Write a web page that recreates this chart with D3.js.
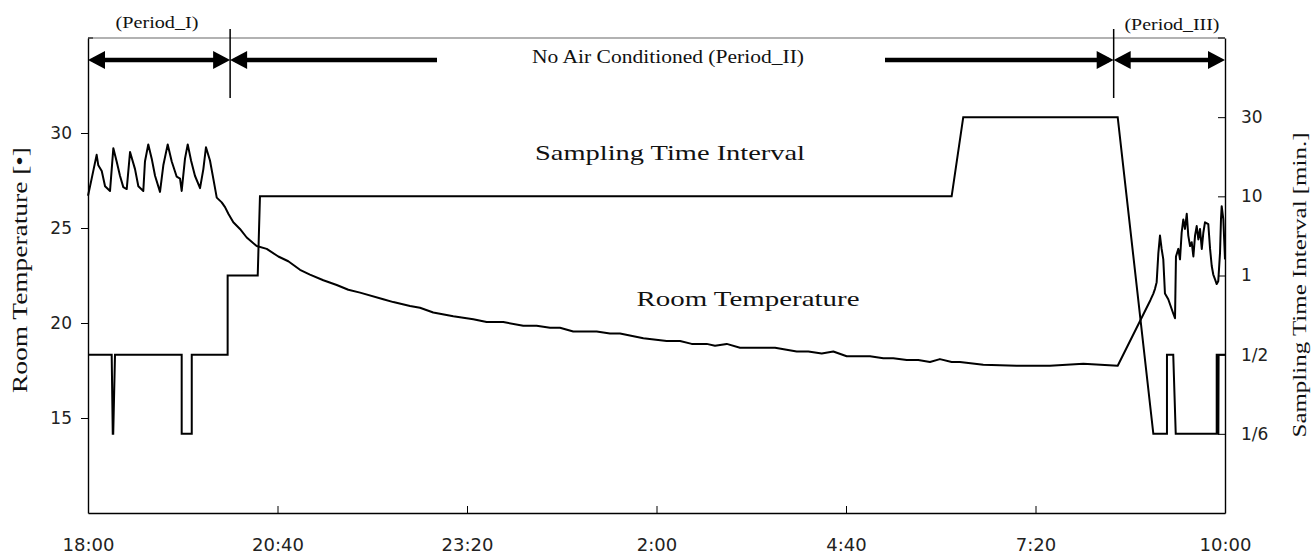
<!DOCTYPE html>
<html>
<head>
<meta charset="utf-8">
<script src="https://cdn.jsdelivr.net/npm/d3@7"></script>
<style>
  body { margin: 0; background: #fff; }
  svg { display: block; }
  .tick text { font-family: "DejaVu Sans", sans-serif; fill: #222; }
</style>
</head>
<body>
<svg width="1311" height="555"></svg>
<script>
// minutes since 18:00
const tempTime = [0, 3.1, 7.3, 8.7, 11.6, 14.4, 18.6, 21.4, 24.2, 27.0, 29.8, 32.7, 35.5, 39.7, 42.5, 46.7,
  48.1, 50.9, 53.8, 56.6, 60.8, 63.6, 67.3, 70.7, 74.9, 77.7, 79.1, 81.9, 84.2, 87.0, 90.3, 94.6, 97.4, 99.6,
  103.0, 105.8, 108.7, 112.9, 115.7, 118.5, 122.7, 128.3, 134.0, 142.4, 150.9, 160.7, 169.1, 179.0, 187.4,
  198.7, 210.0, 219.8, 229.7, 249.3, 257.8, 271.9, 280.3, 291.5, 308.4, 325.3, 336.6, 350.6, 367.5, 378.8,
  390.1, 398.5, 409.7, 429.5, 440.7, 449.2, 468.9, 488.6, 499.9, 509.7, 522.4, 529.4, 539.3, 550.5, 580.1,
  598.4, 608.2, 619.5, 629.3, 640.6, 660.3, 671.5, 679.9, 691.3, 701.0, 710.9, 719.3, 729.2, 736.2, 755.9,
  784.1, 812.2, 840.4, 869.4, 897.0, 899.5, 900.9, 902.3, 903.7, 905.1, 906.5, 907.9, 909.3, 912.1, 916.3,
  917.8, 918.6, 920.6, 922.0, 923.4, 924.8, 926.2, 927.7, 929.0, 930.5, 931.9, 933.3, 934.7, 936.1, 937.5,
  938.9, 940.4, 941.7, 943.1, 945.9, 947.4, 948.8, 950.1, 951.6, 953.0, 954.3, 955.8, 956.6, 957.2, 958.6, 960];
const tempValue = [26.7, 27.6, 28.85, 28.3, 28.0, 27.2, 26.95, 29.2, 28.5, 27.75, 27.15, 27.05, 29.0, 28.1, 27.2, 26.95,
  28.5, 29.4, 28.65, 27.75, 26.9, 28.3, 29.4, 28.5, 27.7, 27.6, 26.95, 28.65, 29.4, 28.55, 27.75, 27.1, 28.1, 29.25,
  28.55, 27.6, 26.6, 26.35, 26.1, 25.75, 25.3, 24.95, 24.5, 24.05, 23.9, 23.5, 23.25, 22.8, 22.55,
  22.25, 22.0, 21.75, 21.6, 21.25, 21.1, 20.9, 20.8, 20.55, 20.35, 20.2, 20.05, 20.05, 19.85, 19.85,
  19.75, 19.75, 19.55, 19.55, 19.45, 19.45, 19.2, 19.05, 19.05, 18.9, 18.9, 18.8, 18.9, 18.7, 18.7,
  18.5, 18.5, 18.4, 18.5, 18.25, 18.25, 18.15, 18.15, 18.05, 18.05, 17.95, 18.1, 17.95, 17.95, 17.8,
  17.75, 17.75, 17.85, 17.75, 21.2, 21.55, 21.8, 22.15, 23.65, 24.6, 23.9, 23.35, 21.55, 21.25, 20.5,
  20.25, 23.5, 23.9, 23.35, 24.75, 25.45, 24.95, 25.75, 24.6, 24.05, 24.25, 23.5, 24.6, 25.1, 24.4,
  24.95, 23.9, 24.75, 25.3, 25.2, 23.9, 23.0, 22.55, 22.3, 22.05, 22.2, 23.7, 25.45, 26.15, 25.45, 23.35];

// sampling interval, as index into sampLabels
const sampTime = [0, 20.0, 20.9, 21.3, 22.8, 79.1, 79.1, 87.6, 87.6, 117.9, 117.9, 143.3, 145.2, 729.2, 739.0,
  869.4, 899.5, 911.0, 911.0, 916.3, 918.4, 953.0, 953.0, 953.6, 953.9, 954.4, 954.6, 960];
const sampLevel = [1, 1, 0, 0, 1, 1, 0, 0, 1, 1, 2, 2, 3, 3, 4,
  4, 0, 0, 1, 1, 0, 0, 1, 1, 0, 0, 1, 1];
const sampLabels = ['1/6', '1/2', '1', '10', '30'];

const timeTicks = [0, 160, 320, 480, 640, 800, 960];
const timeLabels = ['18:00', '20:40', '23:20', '2:00', '4:40', '7:20', '10:00'];
const tempTicks = [15, 20, 25, 30];
const periodBounds = [0, 120, 866, 960];

const svg = d3.select('svg');
const mLeft = 88, mRight = 1225, mTop = 38, mBottom = 513;

const x = d3.scaleLinear().domain([0, 960]).range([mLeft, mRight]);
const yTemp = d3.scaleLinear().domain([10, 35]).range([mBottom, mTop]);
const ySamp = d3.scaleLinear().domain([-1, 5]).range([mBottom, mTop]);

// frame
svg.append('line').attr('x1', mLeft).attr('x2', mRight).attr('y1', mTop).attr('y2', mTop)
  .attr('stroke', '#999').attr('stroke-width', 1.5);

const xAxis = svg.append('g')
  .attr('transform', `translate(0,${mBottom})`)
  .call(d3.axisBottom(x).tickValues(timeTicks).tickFormat((d, i) => timeLabels[i])
    .tickSize(-7).tickSizeOuter(0).tickPadding(25));
xAxis.selectAll('text').attr('font-size', 18);
xAxis.select('.domain').attr('stroke-width', 1.6);

const yAxisL = svg.append('g')
  .attr('transform', `translate(${mLeft},0)`)
  .call(d3.axisLeft(yTemp).tickValues(tempTicks).tickSize(7).tickSizeOuter(0).tickPadding(9));
yAxisL.selectAll('text').attr('font-size', 17);
yAxisL.select('.domain').attr('stroke-width', 1.4);

const yAxisR = svg.append('g')
  .attr('transform', `translate(${mRight},0)`)
  .call(d3.axisRight(ySamp).tickValues([0, 1, 2, 3, 4]).tickFormat(d => sampLabels[d])
    .tickSize(-7).tickSizeOuter(0).tickPadding(16));
yAxisR.selectAll('text').attr('font-size', 17);
yAxisR.select('.domain').attr('stroke-width', 1.4);

// small corner marks
svg.append('line').attr('x1', mLeft).attr('x2', mLeft + 5).attr('y1', mTop).attr('y2', mTop).attr('stroke', '#000');
svg.append('line').attr('x1', mRight - 7).attr('x2', mRight).attr('y1', mTop).attr('y2', mTop).attr('stroke', '#000');

// data lines
const tempData = tempTime.map((t, i) => [t, tempValue[i]]);
const sampData = sampTime.map((t, i) => [t, sampLevel[i]]);

svg.append('path')
  .datum(sampData)
  .attr('fill', 'none').attr('stroke', '#000').attr('stroke-width', 2)
  .attr('d', d3.line().x(d => x(d[0])).y(d => ySamp(d[1])));

svg.append('path')
  .datum(tempData)
  .attr('fill', 'none').attr('stroke', '#000').attr('stroke-width', 2)
  .attr('stroke-linejoin', 'round')
  .attr('d', d3.line().x(d => x(d[0])).y(d => yTemp(d[1])));

// period arrows
const arrowY = 60;
function arrowHead(tipX, dir) {
  svg.append('path')
    .attr('d', `M${tipX},${arrowY} L${tipX - dir * 17},${arrowY - 9} L${tipX - dir * 17},${arrowY + 9} Z`)
    .attr('fill', '#000');
}
function bar(x1, x2) {
  svg.append('line').attr('x1', x1).attr('x2', x2).attr('y1', arrowY).attr('y2', arrowY)
    .attr('stroke', '#000').attr('stroke-width', 4.5);
}
const p0 = x(periodBounds[0]), p1 = x(periodBounds[1]), p2 = x(periodBounds[2]), p3 = x(periodBounds[3]);
bar(p0 + 5, p1 - 5); arrowHead(p0, -1); arrowHead(p1, 1);
bar(p1 + 5, 437); bar(885, p2 - 5); arrowHead(p1, -1); arrowHead(p2, 1);
bar(p2 + 5, p3 - 5); arrowHead(p2, -1); arrowHead(p3, 1);

[p1, p2].forEach(px => {
  svg.append('line').attr('x1', px).attr('x2', px).attr('y1', 29).attr('y2', 98)
    .attr('stroke', '#000').attr('stroke-width', 1.5);
});

// text
function label(txt, cx, cy, size, len, rot) {
  const t = svg.append('text')
    .attr('font-family', '"Liberation Serif", serif')
    .attr('font-size', size)
    .attr('fill', '#111')
    .attr('text-anchor', 'middle')
    .attr('textLength', len)
    .attr('lengthAdjust', 'spacingAndGlyphs')
    .text(txt);
  if (rot) t.attr('transform', `translate(${cx},${cy}) rotate(-90)`);
  else t.attr('x', cx).attr('y', cy);
}
label('(Period_I)', 157, 28, 16, 83);
label('No Air Conditioned (Period_II)', 668, 63, 18, 272);
label('(Period_III)', 1172, 30, 16, 95);
label('Sampling Time Interval', 670, 160, 21, 270);
label('Room Temperature', 748, 306, 21, 223);
label('Room Temperature [\u2022]', 27, 270, 20, 246, true);
label('Sampling Time Interval [min.]', 1306, 285, 19, 305, true);
</script>
</body>
</html>
